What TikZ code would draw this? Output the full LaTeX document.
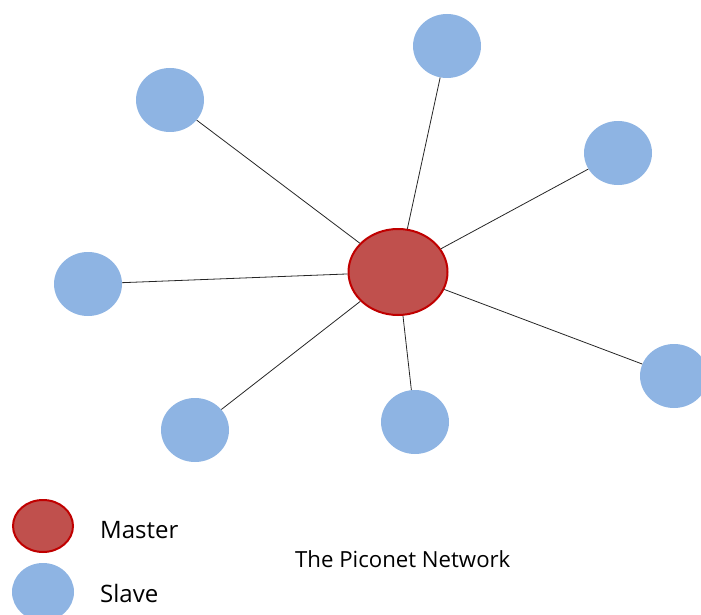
\documentclass[tikz,border=0pt]{standalone}
\usepackage{fontspec}
\setmainfont{Open Sans}
\usetikzlibrary{shapes}

\definecolor{masterred}{HTML}{C0504D}
\definecolor{masterrim}{HTML}{C00000}
\definecolor{slaveblue}{HTML}{8EB4E3}

\begin{document}
\begin{tikzpicture}[x=1pt,y=-1pt]
\tikzstyle{line}=[draw=black!85, line width=0.8pt]

% Define the master style for the central device
\tikzstyle{master}=[ellipse, inner sep=0pt, minimum width=99pt, minimum height=86pt, fill=masterred, draw=masterrim, line width=2pt]

% Define the slave style for the outer devices
\tikzstyle{slave}=[ellipse, inner sep=0pt, minimum width=68pt, minimum height=64pt, fill=slaveblue]

\tikzstyle{legend}=[anchor=base west, inner sep=0pt, font=\fontsize{24}{28}\selectfont]

\useasboundingbox (0,0) rectangle (701,615);

% define the nodes of the piconet
\node (master) [master] at (398,272) {};
\node (slave1) [slave] at (170,100) {};
\node (slave2) [slave] at (447,46) {};
\node (slave3) [slave] at (618,153) {};
\node (slave4) [slave] at (88,284) {};
\node (slave5) [slave] at (674,376) {};
\node (slave6) [slave] at (195,430) {};
\node (slave7) [slave] at (415,422) {};

% define the links between master and slaves
\foreach \s in {slave1,slave2,slave3,slave4,slave5,slave6,slave7}
  \draw[line] (master) -- (\s);

% legend
\node (keymaster) [master, minimum width=60pt, minimum height=52pt] at (43,526) {};
\node (keyslave) [slave, minimum width=62pt, minimum height=58pt] at (43,592) {};
\node (mastertext) [legend] at (100,538) {Master};
\node (slavetext) [legend] at (100,602) {Slave};
\node (title) [legend, font=\fontsize{22.2}{26}\selectfont] at (295,567) {The Piconet Network};

\end{tikzpicture}
\end{document}
